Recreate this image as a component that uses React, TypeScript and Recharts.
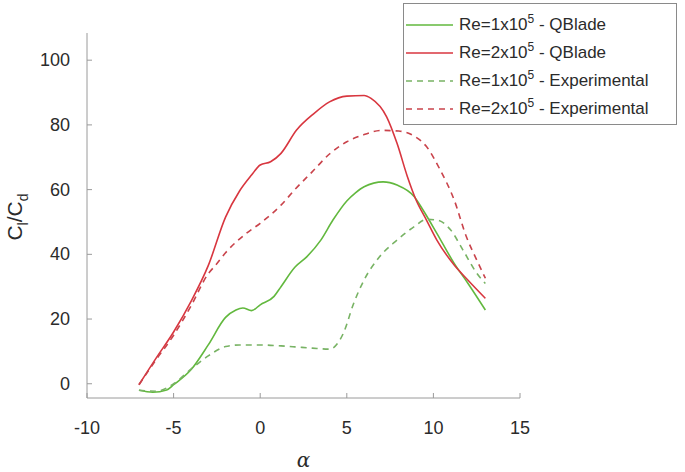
import { LineChart, Line, XAxis, YAxis, Legend, Label } from 'recharts';

// angle of attack (deg) and Cl/Cd for each curve
const alphaQB1 = [-7, -6.2, -5.4, -5, -4, -3, -2, -1.4, -1, -0.5, 0, 0.8, 1.2, 2, 2.7, 3.5, 4.2, 5, 5.5, 6, 7.1, 7.9, 8.9, 9.4, 10.2, 11.2, 12, 13];
const clcdQB1 = [-2, -2.6, -1.9, -0.3, 4.3, 12, 20.5, 22.8, 23.4, 22.6, 24.4, 27, 30, 36, 39.3, 44.4, 50.6, 56.5, 59, 60.9, 62.4, 61.4, 57.8, 53.7, 46.5, 37.2, 31, 22.8];

const alphaQB2 = [-7, -6, -5, -4, -3, -2, -1.2, -0.5, 0, 0.6, 1.2, 2.1, 3.1, 4, 5, 6, 6.4, 7.3, 7.9, 8.5, 9, 9.6, 10.2, 11.2, 12, 13];
const clcdQB2 = [-0.3, 8, 16, 25.4, 36.5, 51.5, 59.5, 64.5, 67.6, 68.6, 71.2, 78.4, 83.5, 87.1, 88.9, 89.1, 88.2, 82.5, 74.3, 64, 56.8, 50.6, 44.4, 36.7, 32, 26.4];

const alphaEx1 = [-7, -6, -5, -4, -3, -2, -1.2, 0, 1.2, 2, 3, 4, 4.8, 5.4, 6, 6.9, 7.9, 8.9, 9.6, 10.2, 11, 11.7, 12.5, 13];
const clcdEx1 = [-2, -2.3, 0, 4.5, 8.6, 11.5, 12, 12, 11.7, 11.4, 11, 10.7, 15.6, 24.9, 32.1, 39.3, 44.4, 48.6, 50.8, 50.6, 47.5, 41.4, 34.2, 31];

const alphaEx2 = [-7, -6, -5, -4, -3, -2.6, -2, -0.8, 0, 1.2, 2, 3, 4, 5, 6, 7, 8, 8.9, 9.6, 10.4, 11.2, 11.9, 12.5, 13];
const clcdEx2 = [-0.3, 7.5, 15, 24, 34, 36.5, 40.5, 46.5, 49.6, 55.2, 60, 65.5, 71, 74.8, 77, 78.3, 78.1, 76.5, 73.3, 66, 56.8, 45.5, 38.3, 32.6];

const xTicks = [-10, -5, 0, 5, 10, 15];
const yTicks = [0, 20, 40, 60, 80, 100];

const toPoints = (xs: number[], ys: number[]) => xs.map((a, i) => ({ a, v: ys[i] }));

const series = [
  { key: 'qb1', re: '1', src: 'QBlade', data: toPoints(alphaQB1, clcdQB1), color: '#62b83e', dash: undefined },
  { key: 'qb2', re: '2', src: 'QBlade', data: toPoints(alphaQB2, clcdQB2), color: '#d8363f', dash: undefined },
  { key: 'ex1', re: '1', src: 'Experimental', data: toPoints(alphaEx1, clcdEx1), color: '#78b364', dash: '6 5' },
  { key: 'ex2', re: '2', src: 'Experimental', data: toPoints(alphaEx2, clcdEx2), color: '#c9434b', dash: '6 5' },
];

const font = '"Liberation Sans", Arial, sans-serif';
const textColor = '#2b2b2b';
const axisColor = '#9a9a9a';

// MATLAB style: tick marks point into the plot
const XTick = (props: any) => {
  const { x, y, payload } = props;
  return (
    <g>
      <line x1={x} y1={y - 22} x2={x} y2={y - 27} stroke={axisColor} />
      <text x={x} y={y} dy={14} textAnchor="middle" fontFamily={font} fontSize={18} fill={textColor}>
        {payload.value}
      </text>
    </g>
  );
};

const YTick = (props: any) => {
  const { x, y, payload } = props;
  return (
    <g>
      <line x1={x + 17} y1={y} x2={x + 22} y2={y} stroke={axisColor} />
      <text x={x} y={y} dy={6} textAnchor="end" fontFamily={font} fontSize={18} fill={textColor}>
        {payload.value}
      </text>
    </g>
  );
};

const renderLegend = () => (
  <div
    style={{
      width: 274,
      height: 122,
      border: '1px solid #8a8a8a',
      background: '#fff',
      fontFamily: font,
      fontSize: 17,
      color: textColor,
      boxSizing: 'border-box',
      paddingTop: 7,
    }}
  >
    {series.map((s) => (
      <div key={s.key} style={{ display: 'flex', alignItems: 'center', height: 28 }}>
        <svg width={55} height={10}>
          <line x1={2} y1={5} x2={49} y2={5} stroke={s.color} strokeWidth={1.5} strokeDasharray={s.dash} />
        </svg>
        <span>
          Re={s.re}x10<sup style={{ fontSize: 12, verticalAlign: 7, lineHeight: 0 }}>5</sup> - {s.src}
        </span>
      </div>
    ))}
  </div>
);

const YTitle = () => (
  <text
    transform="translate(22,217) rotate(-90)"
    textAnchor="middle"
    fontFamily={font}
    fontSize={21}
    fill={textColor}
  >
    C<tspan dy={6} fontSize={14}>l</tspan>
    <tspan dy={-6}>/C</tspan>
    <tspan dy={6} fontSize={14}>d</tspan>
  </text>
);

export default function App() {
  return (
    <div style={{ position: 'absolute', left: 0, top: 0, background: '#fff' }}>
      <LineChart width={685} height={472} margin={{ top: 33, right: 165, bottom: 4, left: 27 }}>
        <XAxis
          dataKey="a"
          type="number"
          domain={[-10, 15]}
          ticks={xTicks}
          allowDuplicatedCategory={false}
          height={70}
          stroke={axisColor}
          tickLine={false}
          tickSize={0}
          tickMargin={22}
          tick={<XTick />}
        >
          <Label
            value="α"
            position="insideBottom"
            offset={1}
            style={{ fontFamily: '"DejaVu Serif", serif', fontStyle: 'italic', fontSize: 20, fill: textColor }}
          />
        </XAxis>
        <YAxis
          dataKey="v"
          type="number"
          domain={[-4.4, 108.4]}
          ticks={yTicks}
          width={60}
          stroke={axisColor}
          tickLine={false}
          tickSize={0}
          tickMargin={17}
          tick={<YTick />}
        >
          <Label content={<YTitle />} />
        </YAxis>
        <Legend
          content={renderLegend}
          layout="horizontal"
          verticalAlign="middle"
          wrapperStyle={{ top: 3, left: 403, width: 274 }}
        />
        {series.map((s) => (
          <Line
            key={s.key}
            data={s.data}
            dataKey="v"
            name={s.key}
            type="monotone"
            stroke={s.color}
            strokeWidth={1.6}
            strokeDasharray={s.dash}
            dot={false}
            isAnimationActive={false}
          />
        ))}
      </LineChart>
    </div>
  );
}
